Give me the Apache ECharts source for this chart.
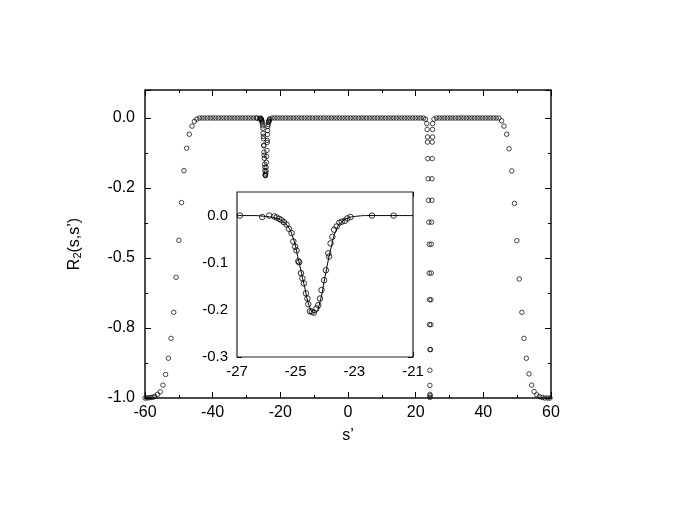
<!DOCTYPE html>
<html>
<head>
<meta charset="utf-8">
<script src="https://cdn.jsdelivr.net/npm/echarts@6/dist/echarts.min.js"></script>
<style>
  html, body { margin: 0; padding: 0; background: #fff; }
  #chart { width: 690px; height: 517px; }
</style>
</head>
<body>
<div id="chart"></div>
<script>
// main plot: left edge curve
const leftEdgeX = [-60.0, -59.4, -58.8, -58.2, -57.6, -57.1, -56.3, -55.5, -54.7, -53.9, -53.1, -52.3, -51.5, -50.8, -50.0, -49.2, -48.5, -47.7, -46.9, -46.1, -45.4, -44.7]
const leftEdgeY = [-1.0, -1.0, -0.999, -0.998, -0.997, -0.994, -0.987, -0.978, -0.954, -0.916, -0.858, -0.787, -0.694, -0.569, -0.437, -0.302, -0.188, -0.108, -0.058, -0.029, -0.012, -0.004]

// points sitting on R2 = 0
const flatX = [
  -43.9, -43.1, -42.3, -41.5, -40.7, -39.9, -39.1, -38.3, -37.5, -36.7, -35.9, -35.1, -34.3, -33.5, -32.7, -31.9, -31.1, -30.3, -29.5, -28.7, -27.9, -27.1,
  -20.9, -20.1, -19.3, -18.5, -17.7, -16.9, -16.1, -15.3, -14.5, -13.7, -12.9, -12.1, -11.3, -10.5, -9.7, -8.9, -8.1, -7.3, -6.5, -5.7, -4.9, -4.1, -3.3, -2.5, -1.7, -0.9,
  -0.1, 0.7, 1.5, 2.3, 3.1, 3.9, 4.7, 5.5, 6.3, 7.1, 7.9, 8.7, 9.5, 10.3, 11.1, 11.9, 12.7, 13.5, 14.3, 15.1, 15.9, 16.7, 17.5, 18.3, 19.1, 19.9, 20.7, 21.5, 22.3,
  26.2, 27.0, 27.8, 28.6, 29.4, 30.2, 31.0, 31.8, 32.6, 33.4, 34.2, 35.0, 35.8, 36.6, 37.4, 38.2, 39.0, 39.8, 40.6, 41.4, 42.2, 43.0, 43.8, 44.6
]

// dip near s' = -24 (same points as the inset)
const dipX = [-26.9, -26.14, -25.9, -25.73, -25.65, -25.56, -25.48, -25.40, -25.31, -25.23, -25.14, -25.08, -25.02, -24.97, -24.91, -24.88, -24.82, -24.77, -24.72, -24.65, -24.60, -24.57, -24.51, -24.45, -24.38, -24.29, -24.23, -24.17, -24.12, -24.03, -23.97, -23.89, -23.86, -23.81, -23.75, -23.69, -23.60, -23.51, -23.43, -23.32, -23.24, -23.13, -22.40, -21.66]
const dipY = [0, -0.003, 0, -0.002, -0.004, -0.007, -0.01, -0.014, -0.019, -0.028, -0.037, -0.055, -0.066, -0.074, -0.097, -0.099, -0.122, -0.133, -0.144, -0.165, -0.176, -0.188, -0.203, -0.204, -0.206, -0.197, -0.19, -0.176, -0.158, -0.137, -0.116, -0.08, -0.087, -0.059, -0.045, -0.030, -0.023, -0.015, -0.013, -0.011, -0.006, -0.003, 0, 0]

// narrow well near s' = 24
const wellX = [22.9, 23.3, 23.4, 23.5, 23.5, 23.6, 23.7, 23.8, 23.9, 24.0, 24.0, 24.1, 24.1, 24.2, 24.2, 24.2, 24.2, 24.2,
  24.3, 24.4, 24.5, 24.5, 24.6, 24.6, 24.7, 24.8, 24.8, 24.9, 24.9, 25.0, 25.0, 25.0, 25.4]
const wellY = [-0.004, -0.02, -0.041, -0.068, -0.086, -0.145, -0.217, -0.294, -0.372, -0.451, -0.554, -0.649, -0.738, -0.827, -0.901, -0.955, -0.987, -0.998,
  -0.992, -0.827, -0.738, -0.649, -0.554, -0.451, -0.372, -0.294, -0.217, -0.145, -0.086, -0.068, -0.041, -0.02, -0.004]

// right edge curve
const rightEdgeX = [45.4, 46.1, 46.9, 47.6, 48.4, 49.2, 49.9, 50.6, 51.4, 52.0, 52.7, 53.5, 54.3, 55.0, 55.8, 56.6, 57.4, 58.2, 59.0, 59.7]
const rightEdgeY = [-0.01, -0.029, -0.058, -0.11, -0.189, -0.305, -0.438, -0.575, -0.694, -0.787, -0.858, -0.914, -0.954, -0.977, -0.989, -0.995, -0.998, -1.0, -1.0, -1.0]

// fitted curve in the inset
const fitX = [-27, -26.5, -26, -25.7, -25.5, -25.3, -25.1, -24.9, -24.7, -24.5, -24.35, -24.2, -24.0, -23.8, -23.6, -23.4, -23.2, -23.0, -22.5, -21]
const fitY = [0, 0, -0.002, -0.005, -0.01, -0.02, -0.045, -0.095, -0.15, -0.198, -0.206, -0.19, -0.13, -0.07, -0.028, -0.012, -0.005, -0.002, 0, 0]

// tick labels
const yTickValues = [0, -0.25, -0.5, -0.75, -1]
const yTickLabels = ['0.0', '-0.2', '-0.5', '-0.8', '-1.0']
const insetYTickValues = [0, -0.1, -0.2, -0.3]
const insetYTickLabels = ['0.0', '-0.1', '-0.2', '-0.3']

const font = 'Liberation Sans'
const pairs = (xs, ys) => xs.map((x, i) => [x, ys[i]])
const mainData = [].concat(
  pairs(leftEdgeX, leftEdgeY),
  flatX.map(x => [x, 0]),
  pairs(dipX, dipY),
  pairs(wellX, wellY),
  pairs(rightEdgeX, rightEdgeY)
)

function pickLabel (values, labels) {
  return function (v) {
    for (let i = 0; i < values.length; i++) {
      if (Math.abs(values[i] - v) < 1e-6) return labels[i]
    }
    return ''
  }
}

const noLine = { show: false, onZero: false }

function tickAxis (opt) {
  // plain tick-only axis (mirror sides and minor ticks)
  return Object.assign({
    type: 'value',
    axisLine: noLine,
    axisLabel: { show: false },
    splitLine: { show: false },
    axisTick: { show: true, inside: true, length: 3, lineStyle: { color: '#000', width: 1 } }
  }, opt)
}

const chart = echarts.init(document.getElementById('chart'))
chart.setOption({
  backgroundColor: '#fff',
  animation: false,
  grid: [
    { left: 145, right: 139, top: 90, bottom: 119, show: true, borderColor: '#111', borderWidth: 1.5, backgroundColor: 'transparent' },
    { left: 237, right: 277, top: 192, bottom: 160, show: true, borderColor: '#222', borderWidth: 1.2, backgroundColor: '#fff', z: 5 }
  ],
  xAxis: [
    {
      type: 'value', gridIndex: 0, position: 'bottom', min: -60, max: 60, interval: 20,
      axisLine: noLine,
      splitLine: { show: false },
      axisTick: { inside: true, length: 6, lineStyle: { color: '#000' } },
      minorTick: { show: true, splitNumber: 2, length: 3, lineStyle: { color: '#000' } },
      axisLabel: { color: '#000', fontFamily: font, fontSize: 16, margin: 7 },
      name: 's\u2019', nameLocation: 'middle', nameGap: 30,
      nameTextStyle: { color: '#000', fontFamily: font, fontSize: 16 }
    },
    {
      type: 'value', gridIndex: 0, position: 'top', min: -60, max: 60, interval: 20,
      axisLine: noLine,
      splitLine: { show: false },
      axisLabel: { show: false },
      axisTick: { inside: true, length: 6, lineStyle: { color: '#000' } },
      minorTick: { show: true, splitNumber: 2, length: 3, lineStyle: { color: '#000' } }
    },
    {
      type: 'value', gridIndex: 1, position: 'bottom', min: -27, max: -21, interval: 2,
      axisLine: noLine,
      splitLine: { show: false },
      axisTick: { inside: true, length: 5, lineStyle: { color: '#000' } },
      axisLabel: { color: '#000', fontFamily: font, fontSize: 15, margin: 7 }
    },
    {
      type: 'value', gridIndex: 1, position: 'top', min: -27, max: -21, interval: 2,
      axisLine: noLine,
      splitLine: { show: false },
      axisLabel: { show: false },
      axisTick: { inside: true, length: 5, lineStyle: { color: '#000' } }
    }
  ],
  yAxis: [
    {
      type: 'value', gridIndex: 0, position: 'left', min: -1, max: 0.1, interval: 0.25,
      axisLine: noLine,
      splitLine: { show: false },
      axisTick: { inside: true, length: 6, lineStyle: { color: '#000' } },
      axisLabel: { color: '#000', fontFamily: font, fontSize: 16, margin: 10, formatter: pickLabel(yTickValues, yTickLabels) },
      name: '{a|R}{s|2}{a|(s,s\u2019)}', nameLocation: 'middle', nameRotate: 90, nameGap: 62,
      nameTextStyle: {
        color: '#000', fontFamily: font, fontSize: 16,
        rich: {
          a: { fontFamily: font, fontSize: 16, color: '#000' },
          s: { fontFamily: font, fontSize: 11, color: '#000', verticalAlign: 'bottom', padding: [6, 0, 0, 0] }
        }
      }
    },
    tickAxis({ gridIndex: 0, position: 'left', min: -1, max: 0.1, interval: 0.125 }),
    tickAxis({ gridIndex: 0, position: 'right', min: -1, max: 0.1, interval: 0.25, axisTick: { inside: true, length: 6, lineStyle: { color: '#000' } } }),
    tickAxis({ gridIndex: 0, position: 'right', min: -1, max: 0.1, interval: 0.125 }),
    {
      type: 'value', gridIndex: 1, position: 'left', min: -0.3, max: 0.05, interval: 0.1,
      axisLine: noLine,
      splitLine: { show: false },
      axisTick: { inside: true, length: 5, lineStyle: { color: '#000' } },
      axisLabel: { color: '#000', fontFamily: font, fontSize: 15, margin: 9, formatter: pickLabel(insetYTickValues, insetYTickLabels) }
    },
    tickAxis({ gridIndex: 1, position: 'left', min: -0.3, max: 0.05, interval: 0.05 }),
    tickAxis({ gridIndex: 1, position: 'right', min: -0.3, max: 0.05, interval: 0.1, axisTick: { inside: true, length: 5, lineStyle: { color: '#000' } } }),
    tickAxis({ gridIndex: 1, position: 'right', min: -0.3, max: 0.05, interval: 0.05 })
  ],
  series: [
    {
      type: 'scatter', xAxisIndex: 0, yAxisIndex: 0,
      symbol: 'circle', symbolSize: 4.5,
      itemStyle: { color: 'rgba(0,0,0,0)', borderColor: '#000', borderWidth: 0.9 },
      data: mainData
    },
    {
      type: 'line', xAxisIndex: 2, yAxisIndex: 4, smooth: true, showSymbol: false, z: 6,
      lineStyle: { color: '#000', width: 1 },
      data: pairs(fitX, fitY)
    },
    {
      type: 'scatter', xAxisIndex: 2, yAxisIndex: 4, z: 7,
      symbol: 'circle', symbolSize: 5.5,
      itemStyle: { color: 'rgba(0,0,0,0)', borderColor: '#000', borderWidth: 1 },
      data: pairs(dipX, dipY)
    }
  ]
})
</script>
</body>
</html>
